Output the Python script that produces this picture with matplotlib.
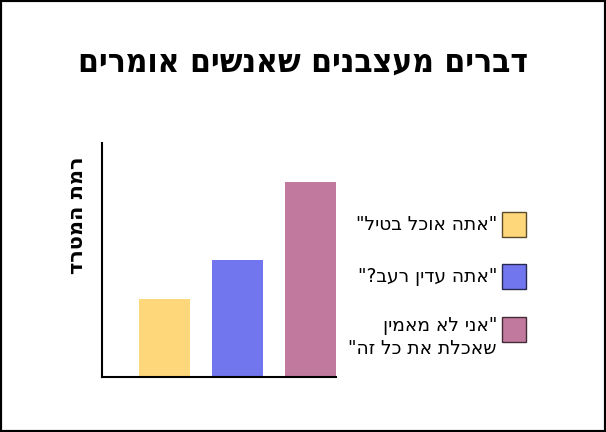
import matplotlib
matplotlib.use("Agg")
import matplotlib.pyplot as plt
from matplotlib.patches import Rectangle
from matplotlib.colors import to_rgb

# matplotlib has no bidi support, so Hebrew strings are reversed into visual order
def heb(s):
    return s[::-1]

title = "דברים מעצבנים שאנשים אומרים"
ylabel = "רמת המטרד"
labels = ['"אתה אוכל בטיל"', '"אתה עדין רעב?"', ['"אני לא מאמין', 'שאכלת את כל זה"']]
values = [2, 3, 5]
colors = ["#FFD77B", "#7175EE", "#C17A9E"]

fig = plt.figure(figsize=(6.06, 4.32), dpi=100)
fig.patch.set_facecolor("white")
fig.patches.append(Rectangle((0, 0), 1, 1, transform=fig.transFigure, fill=False,
                             edgecolor="black", linewidth=3))

ax = fig.add_axes([102/606, 55/432, 234/606, 234/432])
x = list(range(len(values)))
ax.bar(x, values, width=0.7, color=colors)
ax.set_xlim(-0.856, 2.35)
ax.set_ylim(0, 6)
ax.set_xticks([])
ax.set_yticks([])
for side in ["top", "right"]:
    ax.spines[side].set_visible(False)
for side in ["left", "bottom"]:
    ax.spines[side].set_linewidth(1.5)
    ax.spines[side].set_color("black")

fig.text(0.5, 0.856, heb(title), ha="center", va="center",
         fontsize=24, fontweight="bold", fontstretch="condensed", family="DejaVu Sans")
fig.text(77/606, 0.502, heb(ylabel), rotation=90, ha="center", va="center",
         fontsize=15, fontweight="bold", family="DejaVu Sans")

# legend, text to the left of each box
box_tops = [212, 264, 317]
for lab, col, top in zip(labels, colors, box_tops):
    edge = tuple(c * 0.35 for c in to_rgb(col))
    fig.patches.append(Rectangle((502/606, (432 - top - 25)/432), 24/606, 25/432,
                                 transform=fig.transFigure, facecolor=col,
                                 edgecolor=edge, linewidth=1))
    if isinstance(lab, list):
        txt = "\n".join(heb(l) for l in lab)
        fig.text(497/606, (432 - top + 1)/432, txt, ha="right", va="top",
                 multialignment="right", fontsize=13.4, linespacing=1.3,
                 family="DejaVu Sans")
    else:
        fig.text(497/606, (432 - top - 12.5)/432, heb(lab), ha="right", va="center",
                 fontsize=13.4, family="DejaVu Sans")

fig.savefig("out.png", dpi=100)
